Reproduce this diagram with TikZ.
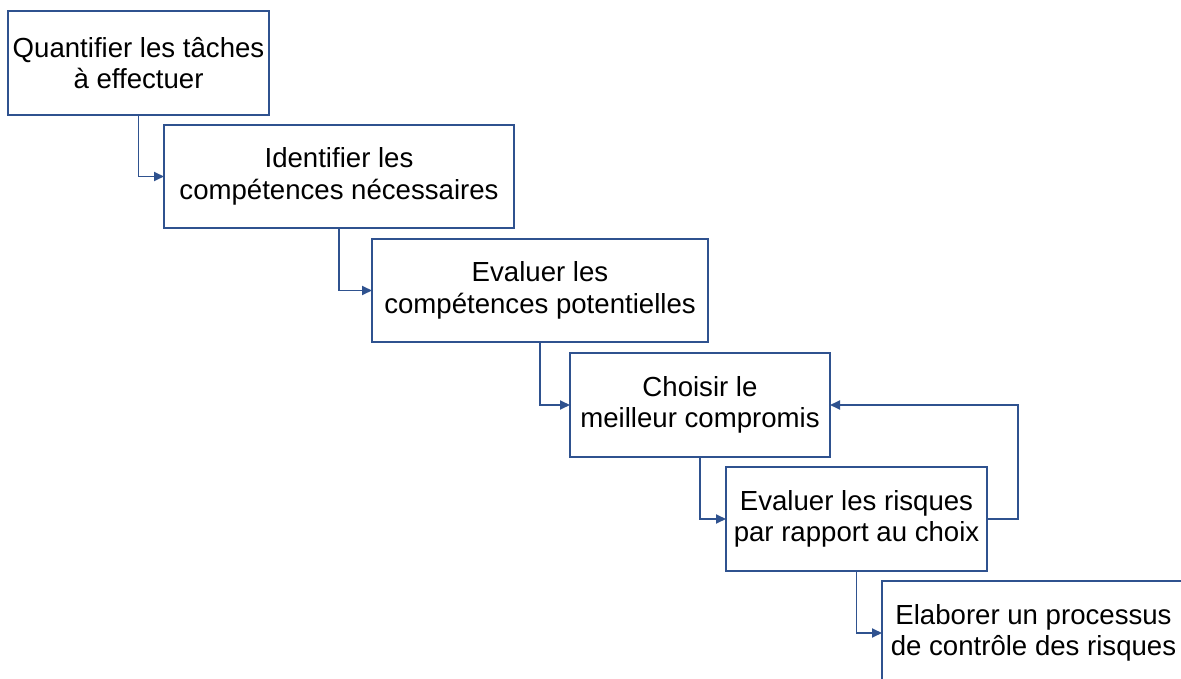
\documentclass[tikz,border=0pt]{standalone}
\usepackage{fontspec}
\setmainfont{Liberation Sans}
\usetikzlibrary{arrows.meta}
\definecolor{lineblue}{RGB}{47,82,143}
\begin{document}
\begin{tikzpicture}[x=1pt,y=-1pt,
  stepbox/.style={draw=lineblue,line width=1.8pt,fill=white,rectangle,anchor=north west,
    inner sep=0pt,outer sep=0pt,align=center,
    font=\fontsize{27.6pt}{31.5pt}\selectfont},
  conn/.style={draw=lineblue,line width=1.8pt,-{Triangle[length=10pt,width=9pt]}}]
\useasboundingbox (0,0) rectangle (1181,679);
\clip (0,0) rectangle (1181,679);
\node[stepbox,minimum width=261pt,minimum height=104pt] (b1) at (8,11) {Quantifier les tâches\\à effectuer};
\node[stepbox,minimum width=350pt,minimum height=103pt] (b2) at (164,125) {Identifier les\\compétences nécessaires};
\node[stepbox,minimum width=336pt,minimum height=103pt] (b3) at (372,239) {Evaluer les\\compétences potentielles};
\node[stepbox,minimum width=260pt,minimum height=104pt] (b4) at (570,353) {Choisir le\\meilleur compromis};
\node[stepbox,minimum width=261pt,minimum height=104pt] (b5) at (726,467) {Evaluer les risques\\par rapport au choix};
\node[stepbox,minimum width=303pt,minimum height=104pt] (b6) at (882,581) {Elaborer un processus\\de contrôle des risques};
\draw[conn] (b1.south) |- (b2.west);
\draw[conn] (b2.south) |- (b3.west);
\draw[conn] (b3.south) |- (b4.west);
\draw[conn] (b4.south) |- (b5.west);
\draw[conn] (b5.south) |- (b6.west);
\draw[conn] (b5.east) -- ++(31,0) |- (b4.east);
\end{tikzpicture}
\end{document}
